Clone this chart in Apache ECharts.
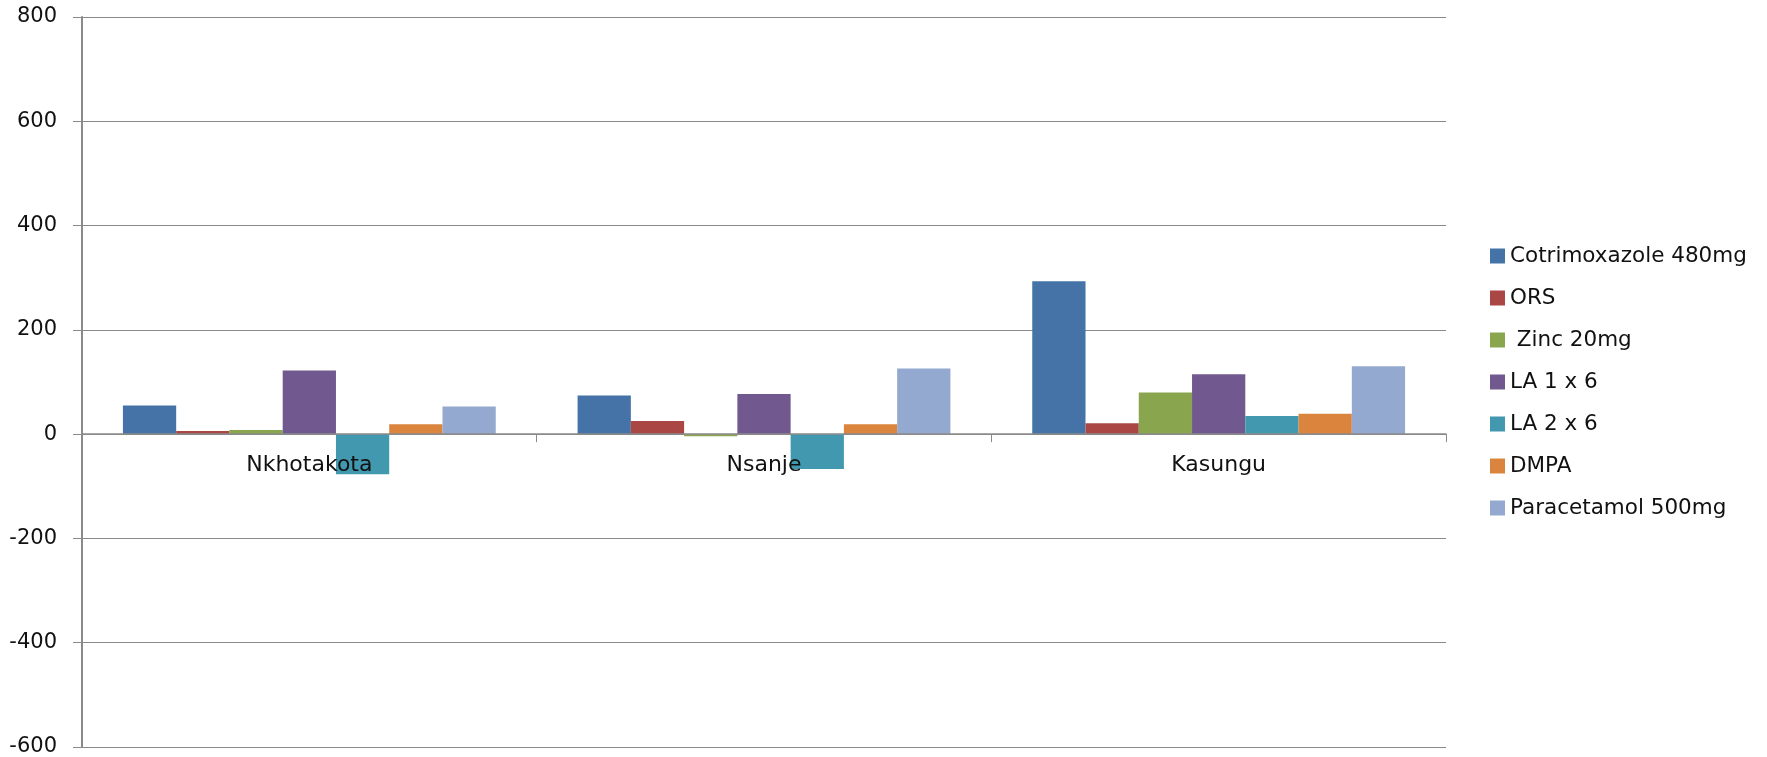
<!DOCTYPE html>
<html>
<head>
<meta charset="utf-8">
<script src="https://cdn.jsdelivr.net/npm/echarts@6/dist/echarts.min.js"></script>
<style>
  html, body { margin: 0; padding: 0; background: #ffffff; }
  #chart { width: 1767px; height: 757px; }
</style>
</head>
<body>
<div id="chart"></div>
<script>
// Districts along the category axis
const districts = ['Nkhotakota', 'Nsanje', 'Kasungu'];

// One value per district for each commodity
const cotrimoxazole = [55, 74, 293];
const ors = [6, 25, 21];
const zinc = [8, -4, 80];
const la1x6 = [122, 77, 115];
const la2x6 = [-77, -67, 35];
const dmpa = [19, 19, 39];
const paracetamol = [53, 126, 130];

// Value axis range
const yMin = -600;
const yMax = 800;
const yStep = 200;

const seriesDefs = [
  { name: 'Cotrimoxazole 480mg', data: cotrimoxazole, color: '#4573A7' },
  { name: 'ORS', data: ors, color: '#AA4744' },
  { name: ' Zinc 20mg', data: zinc, color: '#89A54E' },
  { name: 'LA 1 x 6', data: la1x6, color: '#71588F' },
  { name: 'LA 2 x 6', data: la2x6, color: '#4298AF' },
  { name: 'DMPA', data: dmpa, color: '#DB843D' },
  { name: 'Paracetamol 500mg', data: paracetamol, color: '#94A9CF' }
];

const FONT = 'DejaVu Sans';
const GRID_GREY = '#8a8a8a';
const TEXT = '#111111';

const chart = echarts.init(document.getElementById('chart'), null, { renderer: 'canvas' });

chart.setOption({
  animation: false,
  backgroundColor: '#ffffff',
  grid: { left: 82, right: 321, top: 17, bottom: 10, containLabel: false, outerBoundsMode: 'none' },
  legend: {
    orient: 'vertical',
    left: 1490,
    top: 245,
    padding: 0,
    icon: 'rect',
    itemWidth: 15,
    itemHeight: 15,
    itemGap: 20,
    textStyle: { fontFamily: FONT, fontSize: 21.5, color: TEXT, lineHeight: 22 },
    data: seriesDefs.map(s => s.name)
  },
  xAxis: {
    type: 'category',
    data: districts,
    z: 10,
    axisLine: { onZero: false, lineStyle: { color: GRID_GREY, width: 1.5 } },
    axisTick: { show: true, length: 8, inside: false, lineStyle: { color: GRID_GREY } },
    axisLabel: { fontFamily: FONT, fontSize: 22, color: TEXT, margin: 20 },
    splitLine: { show: false }
  },
  yAxis: {
    type: 'value',
    min: yMin,
    max: yMax,
    interval: yStep,
    axisLine: { show: true, lineStyle: { color: GRID_GREY, width: 2 } },
    axisTick: { show: true, length: 9, lineStyle: { color: GRID_GREY } },
    axisLabel: { fontFamily: FONT, fontSize: 21, color: TEXT, margin: 25 },
    splitLine: { show: true, lineStyle: { color: GRID_GREY, width: 1 } }
  },
  series: seriesDefs.map(s => ({
    name: s.name,
    type: 'bar',
    data: s.data,
    barGap: '0%',
    barCategoryGap: '18%',
    itemStyle: { color: s.color }
  }))
});

// Lift the category axis (line, ticks and labels together) up to the zero line.
// Repeated once so the offset settles if the grid re-lays itself out.
for (let pass = 0; pass < 2; pass++) {
  const zeroY = chart.convertToPixel({ yAxisIndex: 0 }, 0);
  const baseY = chart.convertToPixel({ yAxisIndex: 0 }, yMin);
  chart.setOption({ xAxis: { offset: zeroY - baseY } });
}
</script>
</body>
</html>
